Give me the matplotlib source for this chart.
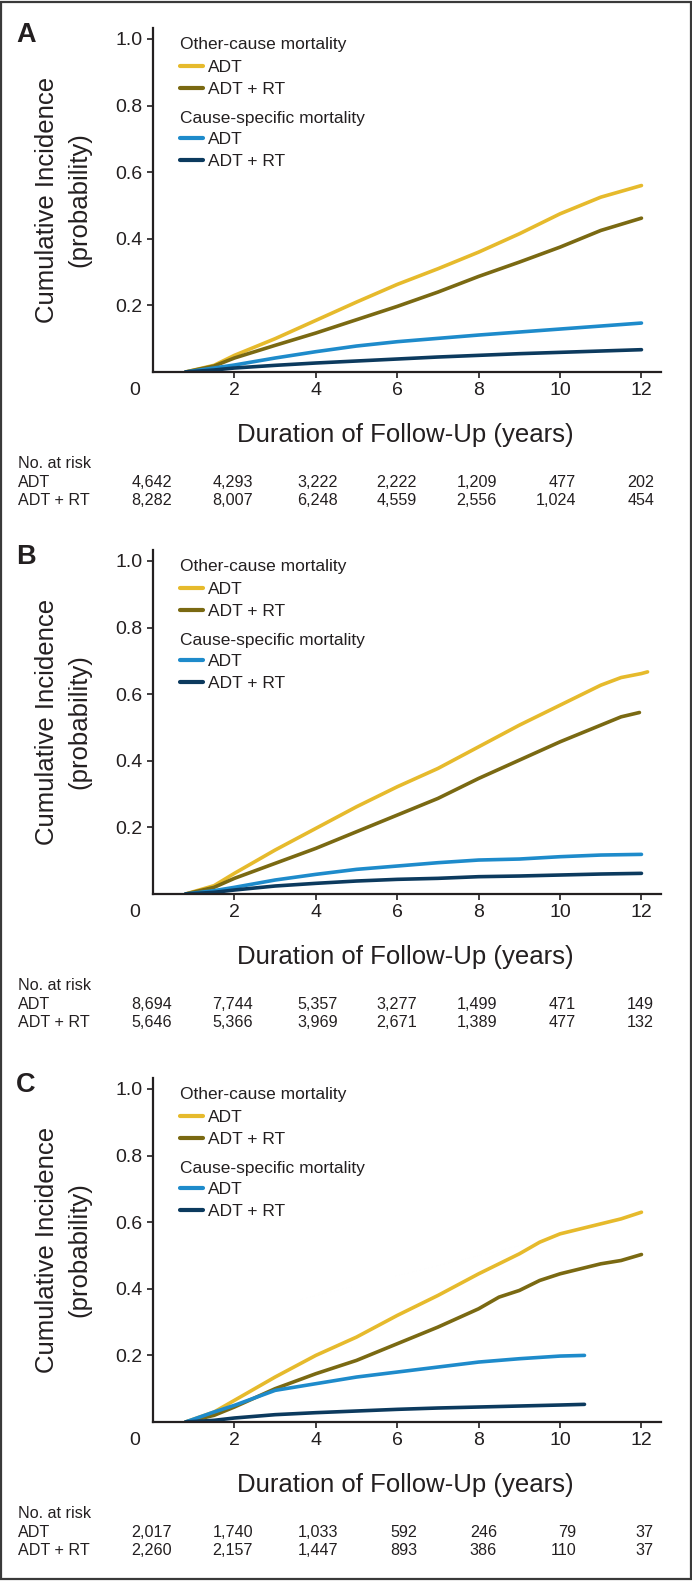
import matplotlib
matplotlib.use('Agg')
import matplotlib.pyplot as plt
from matplotlib.patches import Rectangle

plt.rcParams['font.family'] = ['Liberation Sans', 'DejaVu Sans']

# ---------------- data ----------------
tick_years = [2, 4, 6, 8, 10, 12]
ytick_vals = [0.2, 0.4, 0.6, 0.8, 1.0]
ytick_labels = ['0.2', '0.4', '0.6', '0.8', '1.0']
legend_groups = ['Other-cause mortality', 'Cause-specific mortality']
arm_labels = ['ADT', 'ADT + RT']
panel_letters = ['A', 'B', 'C']

# Panel A
xA = [0.8, 1.5, 2, 3, 4, 5, 6, 7, 8, 9, 10, 11, 12]
A_ocm_adt = [0, 0.02, 0.05, 0.10, 0.155, 0.21, 0.263, 0.31, 0.36, 0.415, 0.475, 0.525, 0.56]
A_ocm_rt = [0, 0.018, 0.042, 0.08, 0.117, 0.157, 0.197, 0.24, 0.287, 0.33, 0.375, 0.425, 0.462]
A_csm_adt = [0, 0.012, 0.021, 0.042, 0.061, 0.078, 0.091, 0.101, 0.111, 0.12, 0.129, 0.138, 0.147]
A_csm_rt = [0, 0.006, 0.012, 0.02, 0.027, 0.033, 0.039, 0.045, 0.05, 0.055, 0.059, 0.063, 0.067]
A_risk_adt = ['4,642', '4,293', '3,222', '2,222', '1,209', '477', '202']
A_risk_rt = ['8,282', '8,007', '6,248', '4,559', '2,556', '1,024', '454']

# Panel B
xB_ocm_adt = [0.8, 1.5, 2, 3, 4, 5, 6, 7, 8, 9, 10, 11, 11.5, 12, 12.15]
B_ocm_adt = [0, 0.025, 0.062, 0.132, 0.197, 0.262, 0.322, 0.377, 0.442, 0.507, 0.567, 0.627, 0.65, 0.662, 0.667]
xB_ocm_rt = [0.8, 1.5, 2, 3, 4, 5, 6, 7, 8, 9, 10, 11, 11.5, 11.95]
B_ocm_rt = [0, 0.02, 0.047, 0.092, 0.137, 0.187, 0.237, 0.287, 0.347, 0.402, 0.457, 0.507, 0.532, 0.545]
xB_csm = [0.8, 1.5, 2, 3, 4, 5, 6, 7, 8, 9, 10, 11, 12]
B_csm_adt = [0, 0.01, 0.02, 0.042, 0.059, 0.074, 0.084, 0.094, 0.102, 0.105, 0.112, 0.117, 0.119]
B_csm_rt = [0, 0.005, 0.012, 0.024, 0.032, 0.039, 0.044, 0.047, 0.052, 0.054, 0.057, 0.06, 0.062]
B_risk_adt = ['8,694', '7,744', '5,357', '3,277', '1,499', '471', '149']
B_risk_rt = ['5,646', '5,366', '3,969', '2,671', '1,389', '477', '132']

# Panel C
xC_ocm_adt = [0.8, 1.5, 2, 3, 4, 5, 6, 7, 8, 9, 9.5, 10, 11, 11.5, 12]
C_ocm_adt = [0, 0.03, 0.065, 0.135, 0.2, 0.255, 0.32, 0.38, 0.445, 0.505, 0.54, 0.565, 0.595, 0.61, 0.63]
xC_ocm_rt = [0.8, 1.5, 2, 3, 4, 5, 6, 7, 8, 8.5, 9, 9.5, 10, 11, 11.5, 12]
C_ocm_rt = [0, 0.02, 0.045, 0.1, 0.145, 0.185, 0.235, 0.285, 0.34, 0.375, 0.395, 0.425, 0.445, 0.475, 0.485, 0.503]
xC_csm = [0.8, 1.5, 2, 3, 4, 5, 6, 7, 8, 9, 10, 10.6]
C_csm_adt = [0, 0.03, 0.05, 0.095, 0.115, 0.135, 0.15, 0.165, 0.18, 0.19, 0.198, 0.2]
C_csm_rt = [0, 0.005, 0.012, 0.022, 0.028, 0.033, 0.038, 0.042, 0.045, 0.048, 0.051, 0.053]
C_risk_adt = ['2,017', '1,740', '1,033', '592', '246', '79', '37']
C_risk_rt = ['2,260', '2,157', '1,447', '893', '386', '110', '37']

# ---------------- style ----------------
COL_OCM_ADT = '#E6BA2C'
COL_OCM_RT = '#7A6912'
COL_CSM_ADT = '#1E8BCB'
COL_CSM_RT = '#0C3A5E'
TXT = '#231F20'

W, H = 692, 1581
fig = plt.figure(figsize=(W / 100, H / 100), dpi=100)


def ftext(x, y, s, **kw):
    fig.text(x / W, 1 - y / H, s, **kw)


panels = [
    dict(letter=panel_letters[0], top=28, bottom=372,
         series=[(xA, A_ocm_adt, COL_OCM_ADT), (xA, A_ocm_rt, COL_OCM_RT),
                 (xA, A_csm_adt, COL_CSM_ADT), (xA, A_csm_rt, COL_CSM_RT)],
         risk=(A_risk_adt, A_risk_rt)),
    dict(letter=panel_letters[1], top=550, bottom=894,
         series=[(xB_ocm_adt, B_ocm_adt, COL_OCM_ADT), (xB_ocm_rt, B_ocm_rt, COL_OCM_RT),
                 (xB_csm, B_csm_adt, COL_CSM_ADT), (xB_csm, B_csm_rt, COL_CSM_RT)],
         risk=(B_risk_adt, B_risk_rt)),
    dict(letter=panel_letters[2], top=1078, bottom=1422,
         series=[(xC_ocm_adt, C_ocm_adt, COL_OCM_ADT), (xC_ocm_rt, C_ocm_rt, COL_OCM_RT),
                 (xC_csm, C_csm_adt, COL_CSM_ADT), (xC_csm, C_csm_rt, COL_CSM_RT)],
         risk=(C_risk_adt, C_risk_rt)),
]

AX_L, AX_R = 153, 661
risk_right = [172, 253, 338, 417, 497, 576, 654]
TICK_FS = 14

for p in panels:
    top, bot = p['top'], p['bottom']
    ax = fig.add_axes([AX_L / W, 1 - bot / H, (AX_R - AX_L) / W, (bot - top) / H])
    ax.set_xlim(0, 12.48)
    ax.set_ylim(0, 1.033)
    for xs, ys, c in p['series']:
        ax.plot(xs, ys, color=c, lw=2.6, solid_capstyle='round', solid_joinstyle='round')
    for s in ['top', 'right']:
        ax.spines[s].set_visible(False)
    for s in ['left', 'bottom']:
        ax.spines[s].set_linewidth(1.6)
        ax.spines[s].set_color(TXT)
    ax.set_xticks(tick_years)
    ax.set_xticklabels([str(t) for t in tick_years])
    ax.set_yticks(ytick_vals)
    ax.set_yticklabels(ytick_labels)
    ax.tick_params(axis='both', direction='out', length=4.5, width=1.2, color=TXT,
                   labelsize=TICK_FS, labelcolor=TXT)
    ax.tick_params(axis='x', pad=3)
    ax.tick_params(axis='y', pad=3)
    ax.annotate('0', xy=(0, 0), xycoords=('data', 'axes fraction'), xytext=(-18, -10),
                textcoords='offset pixels', ha='center', va='top', fontsize=TICK_FS, color=TXT)

    # legend (manual)
    hx0, hx1, tx = 0.66, 1.23, 1.34
    ax.text(0.66, 0.969, legend_groups[0], fontsize=12.5, color=TXT, va='baseline')
    ax.plot([hx0, hx1], [0.920, 0.920], color=COL_OCM_ADT, lw=3, solid_capstyle='round')
    ax.text(tx, 0.901, arm_labels[0], fontsize=12.5, color=TXT, va='baseline')
    ax.plot([hx0, hx1], [0.853, 0.853], color=COL_OCM_RT, lw=3, solid_capstyle='round')
    ax.text(tx, 0.834, arm_labels[1], fontsize=12.5, color=TXT, va='baseline')
    ax.text(0.66, 0.748, legend_groups[1], fontsize=12.5, color=TXT, va='baseline')
    ax.plot([hx0, hx1], [0.704, 0.704], color=COL_CSM_ADT, lw=3, solid_capstyle='round')
    ax.text(tx, 0.685, arm_labels[0], fontsize=12.5, color=TXT, va='baseline')
    ax.plot([hx0, hx1], [0.637, 0.637], color=COL_CSM_RT, lw=3, solid_capstyle='round')
    ax.text(tx, 0.618, arm_labels[1], fontsize=12.5, color=TXT, va='baseline')

    # panel letter
    ftext(16, top + 14, p['letter'], fontsize=19.5, fontweight='bold', color=TXT,
          ha='left', va='baseline')
    # y label
    yc = (top + bot) / 2
    ftext(47.5, yc, 'Cumulative Incidence', fontsize=18.5, color=TXT, rotation=90,
          ha='center', va='center')
    ftext(79, yc, '(probability)', fontsize=18.5, color=TXT, rotation=90,
          ha='center', va='center')
    # x label
    ftext(405, bot + 70, 'Duration of Follow-Up (years)', fontsize=18.5, color=TXT,
          ha='center', va='baseline')
    # number at risk
    ftext(18, bot + 96, 'No. at risk', fontsize=11.6, color=TXT, va='baseline')
    ftext(18, bot + 115, arm_labels[0], fontsize=11.6, color=TXT, va='baseline')
    ftext(18, bot + 133, arm_labels[1], fontsize=11.6, color=TXT, va='baseline')
    for xr, n1, n2 in zip(risk_right, p['risk'][0], p['risk'][1]):
        ftext(xr, bot + 115, n1, fontsize=11.6, color=TXT, ha='right', va='baseline')
        ftext(xr, bot + 133, n2, fontsize=11.6, color=TXT, ha='right', va='baseline')

fig.add_artist(Rectangle((1 / W, 2 / H), (W - 2.5) / W, (H - 3.5) / H,
                         transform=fig.transFigure, fill=False, lw=1.6, edgecolor='#3a3a3a'))

fig.savefig('out.png', dpi=100, facecolor='white')
